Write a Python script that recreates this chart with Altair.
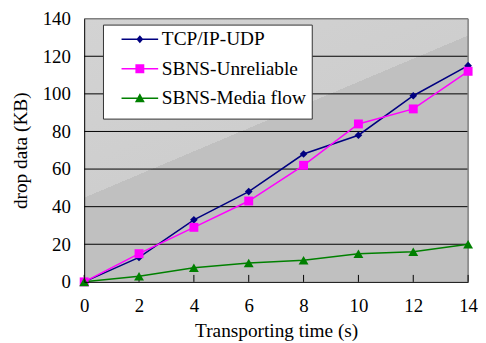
import altair as alt
import pandas as pd

# ---- data ----
time = [0, 2, 4, 6, 8, 10, 12, 14]
tcp = [0, 13, 33, 48, 68, 78, 99, 115]
unreliable = [0, 15, 29, 43, 62, 84, 92, 112]
media = [0, 3, 7.5, 10, 11.5, 15, 16, 20]

series_names = ["TCP/IP-UDP", "SBNS-Unreliable", "SBNS-Media flow"]
series_colors = ["#000080", "#FF00FF", "#008000"]
series_shapes = ["diamond", "square", "triangle-up"]
x_ticks = [0, 2, 4, 6, 8, 10, 12, 14]
y_ticks = [0, 20, 40, 60, 80, 100, 120, 140]
y_grid = [20, 40, 60, 80, 100, 120]

# legend glyphs: a line with the marker in the middle (custom symbol paths)
legend_glyphs = [
    "M-1,0M0.8,-0.15H8.2V0.15H0.8ZM4.5,-0.8L5.2,0L4.5,0.8L3.8,0Z",
    "M-1,0M0.8,-0.15H8.2V0.15H0.8ZM3.6,-0.9H5.4V0.9H3.6Z",
    "M-1,0M0.8,-0.15H8.2V0.15H0.8ZM4.5,-1L5.5,0.8H3.5Z",
]

rows = []
for name, vals in zip(series_names, [tcp, unreliable, media]):
    for t, v in zip(time, vals):
        rows.append({"time": t, "value": v, "series": name})
df = pd.DataFrame(rows)

FONT = "Liberation Serif"
W, H = 388, 266

xscale = alt.Scale(domain=[0, 14], nice=False)
yscale = alt.Scale(domain=[0, 140], nice=False)

x_axis = alt.Axis(
    values=x_ticks, ticks=False, grid=False, domainColor="black", zindex=1,
    labelFont=FONT, labelFontSize=19, labelColor="black", labelPadding=15,
    labelFlush=False, labelOverlap=False,
    title="Transporting time (s)", titleFont=FONT, titleFontSize=19.5,
    titleFontWeight="normal", titleColor="black", titleY=40,
)
y_axis = alt.Axis(
    values=y_ticks, ticks=False, grid=False, domainColor="black", zindex=1,
    labelFont=FONT, labelFontSize=19, labelColor="black", labelPadding=14,
    labelFlush=False, labelOverlap=False,
    title="drop data (KB)", titleFont=FONT, titleFontSize=19.5,
    titleFontWeight="normal", titleColor="black", titleX=-54, titleY=H / 2,
)

gradient = alt.LinearGradient(
    gradient="linear",
    stops=[
        alt.GradientStop(offset=0, color="#d3d3d3"),
        alt.GradientStop(offset=0.493, color="#cecece"),
        alt.GradientStop(offset=0.493, color="#c0c0c0"),
        alt.GradientStop(offset=1, color="#c0c0c0"),
    ],
    x1=0, y1=0, x2=0.616, y2=1,
)

one = pd.DataFrame({"a": [0]})

bg = alt.Chart(one).mark_rect(fill=gradient).encode(
    x=alt.X("x0:Q", scale=xscale, axis=x_axis),
    x2="x1:Q",
    y=alt.Y("y0:Q", scale=yscale, axis=y_axis),
    y2="y1:Q",
).transform_calculate(x0="0", x1="14", y0="0", y1="140")

grid = alt.Chart(pd.DataFrame({"g": y_grid})).mark_rule(color="black", strokeWidth=1).encode(
    y=alt.Y("g:Q", scale=yscale, axis=y_axis),
)

border_top = alt.Chart(one).mark_rule(color="#808080", strokeWidth=1.5).encode(
    y=alt.Y("b:Q", scale=yscale, axis=y_axis),
).transform_calculate(b="140")
border_right = alt.Chart(one).mark_rule(color="#808080", strokeWidth=1.5).encode(
    x=alt.X("b:Q", scale=xscale, axis=x_axis),
).transform_calculate(b="14")

ticks = alt.Chart(pd.DataFrame({"t": x_ticks})).mark_rule(color="black", strokeWidth=1).encode(
    x=alt.X("t:Q", scale=xscale, axis=x_axis),
    y=alt.Y("y0:Q", scale=yscale, axis=y_axis),
    y2="y1:Q",
).transform_calculate(y0="0", y1="3.7")

base = alt.Chart(df)

line_layers = []
for name, col in zip(series_names, series_colors):
    line_layers.append(
        base.transform_filter(alt.datum.series == name)
        .mark_line(strokeWidth=1.5, color=col)
        .encode(
            x=alt.X("time:Q", scale=xscale, axis=x_axis),
            y=alt.Y("value:Q", scale=yscale, axis=y_axis),
            order="time:Q",
        )
    )

sizes = {"diamond": 60, "square": 81, "triangle-up": 100}
point_layers = []
for name, shp, col in zip(series_names, series_shapes, series_colors):
    point_layers.append(
        base.transform_filter(alt.datum.series == name)
        .mark_point(shape=shp, filled=True, size=sizes[shp], opacity=1, color=col)
        .encode(
            x=alt.X("time:Q", scale=xscale, axis=x_axis),
            y=alt.Y("value:Q", scale=yscale, axis=y_axis),
        )
    )

legend_props = dict(
    orient="none", legendX=19, legendY=6, direction="vertical",
    fillColor="white", strokeColor="#333333", padding=5,
    labelFont=FONT, labelFontSize=19.5, labelColor="black", labelOffset=35,
    labelLimit=400, symbolSize=100, symbolStrokeWidth=0, symbolOpacity=1,
    rowPadding=8.8, title=" ", titleOrient="bottom", titleFontSize=4,
    titlePadding=2,
)

legend_layer = base.transform_filter("false").mark_point(filled=True, size=100, opacity=1).encode(
    x=alt.X("time:Q", scale=xscale, axis=x_axis),
    y=alt.Y("value:Q", scale=yscale, axis=y_axis),
    color=alt.Color("series:N", scale=alt.Scale(domain=series_names, range=series_colors),
                    legend=alt.Legend(**legend_props)),
    shape=alt.Shape("series:N", scale=alt.Scale(domain=series_names, range=legend_glyphs),
                    legend=alt.Legend(**legend_props)),
)

chart = alt.layer(
    bg, grid, border_top, border_right, ticks, *line_layers, *point_layers, legend_layer
).properties(
    width=W, height=H,
    padding={"left": 3, "top": 0, "right": 0, "bottom": 0},
).configure_view(stroke=None).configure(background="white")

chart.save("out.html", embed_options={"renderer": "svg", "actions": False})
